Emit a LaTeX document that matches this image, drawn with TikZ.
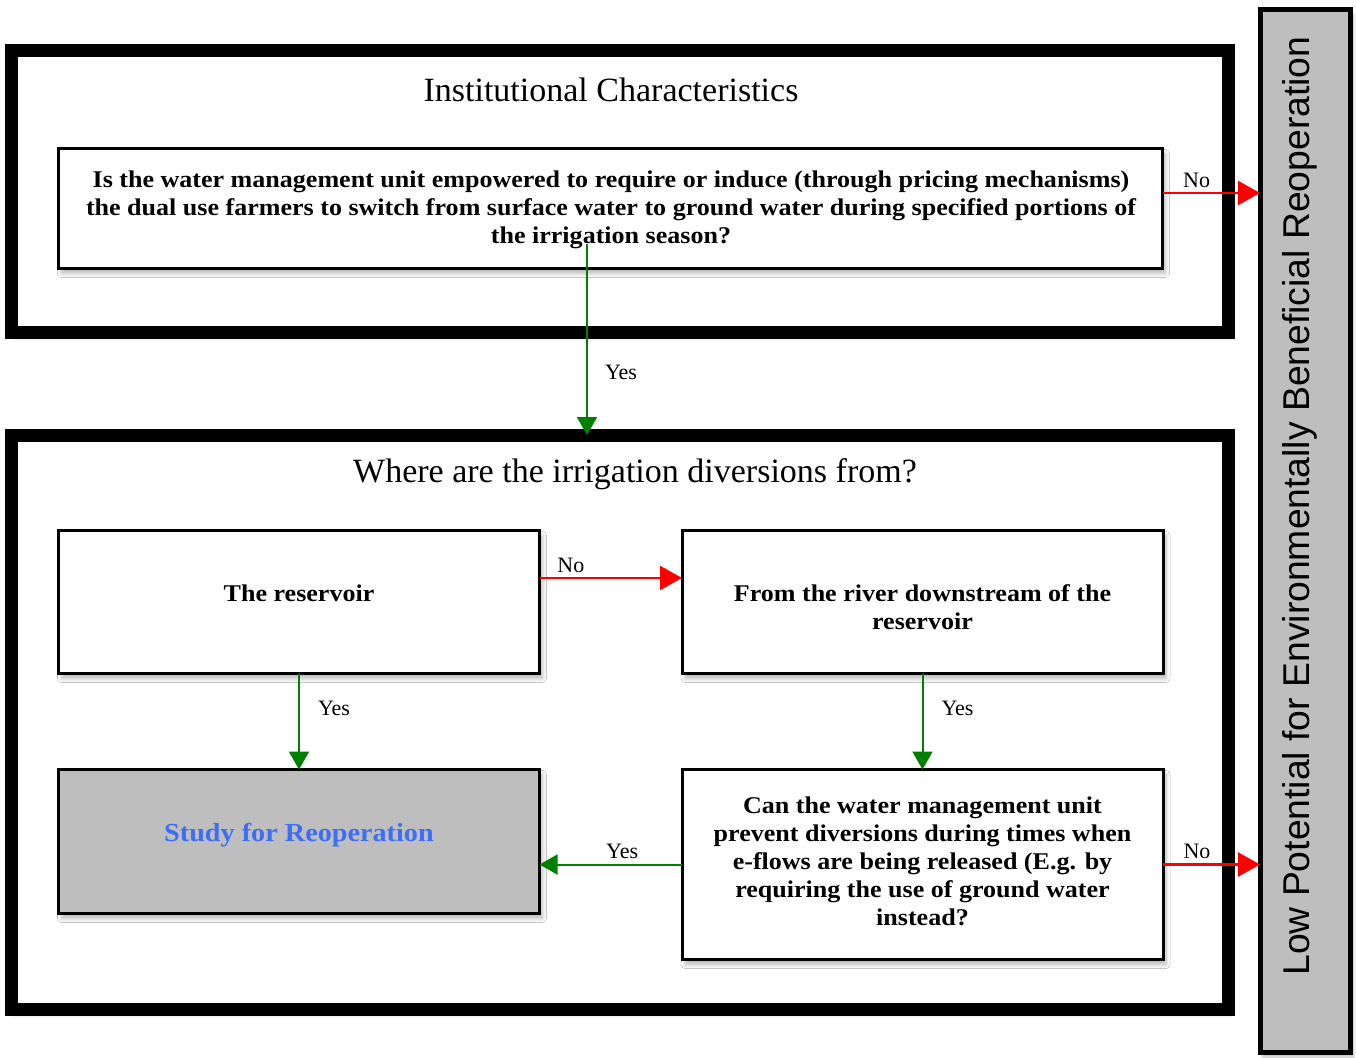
\documentclass[tikz,border=0pt]{standalone}
\usepackage{fontspec}
\setmainfont{Liberation Serif}
\newfontfamily\sansfam{Liberation Sans}
\newfontfamily\widefam[FakeStretch=1.085]{Liberation Serif}
\usetikzlibrary{arrows.meta,shadows.blur}
\definecolor{boxgray}{RGB}{190,190,190}
\definecolor{studyblue}{RGB}{62,110,245}
\definecolor{yesgreen}{RGB}{0,128,0}
\definecolor{nored}{RGB}{255,0,0}
\begin{document}
\begin{tikzpicture}[x=1pt,y=-1pt,
  every node/.style={outer sep=0pt, inner sep=0pt},
  softshadow/.style={blur shadow={shadow xshift=3pt, shadow yshift=-5pt, shadow opacity=28, shadow blur steps=8, shadow blur radius=4pt}},
  frame/.style={draw=black, line width=13pt, fill=white, rectangle, softshadow},
  qbox/.style={draw=black, line width=3pt, fill=white, rectangle, softshadow},
  studybox/.style={draw=black, line width=2.5pt, fill=boxgray, rectangle, softshadow},
  lowbox/.style={draw=black, line width=5pt, fill=boxgray, rectangle, softshadow},
  qtext/.style={font=\widefam\bfseries\fontsize{24}{28}\selectfont, align=center},
  titletext/.style={font=\fontsize{34}{38}\selectfont},
  lbl/.style={font=\fontsize{22}{26}\selectfont, text height=15pt, text depth=5pt},
  noarr/.style={draw=nored, line width=2.5pt, -{Triangle[length=22pt,width=24pt]}},
  yesarr/.style={draw=yesgreen, line width=2pt, -{Triangle[length=18pt,width=20pt]}}
]
\useasboundingbox (0,0) rectangle (1356,1057);

% frames
\node[frame, minimum width=1217pt, minimum height=281pt] (box1) at (619.5,191.5) {};
\node[frame, minimum width=1217pt, minimum height=574pt] (box2) at (619.5,722) {};
\node[lowbox, minimum width=90pt, minimum height=1042pt] (low) at (1305,531) {};

% titles
\node[titletext] (title1) at (611,90) {Institutional Characteristics};
\node[titletext] (title2) at (635,474) {Where are the irrigation diversions from?};

% boxes
\node[qbox, minimum width=1104pt, minimum height=120pt] (q1) at (610.5,208.5) {};
\node[qbox, minimum width=481pt, minimum height=143pt] (res) at (299,602) {};
\node[qbox, minimum width=481pt, minimum height=143pt] (down) at (922.5,602) {};
\node[studybox, minimum width=481pt, minimum height=144pt] (study) at (299,841.5) {};
\node[qbox, minimum width=481pt, minimum height=190pt] (can) at (922.5,864.5) {};

% texts
\node[qtext] (q1t) at (611,210) {Is the water management unit empowered to require or induce (through pricing mechanisms)\\the dual use farmers to switch from surface water to ground water during specified portions of\\the irrigation season?};
\node[qtext] (rest) at (299,593) {The reservoir};
\node[qtext] (downt) at (922.5,607) {From the river downstream of the\\reservoir};
\node[qtext, text=studyblue, font=\widefam\bfseries\fontsize{26}{30}\selectfont] (studyt) at (299,835) {Study for Reoperation};
\node[qtext] (cant) at (922.5,861) {Can the water management unit\\prevent diversions during times when\\e-flows are being released (E.g. by\\requiring the use of ground water\\instead?};
\node[rotate=90, font=\sansfam\fontsize{37.3}{40}\selectfont] (lowt) at (1300,506) {Low Potential for Environmentally Beneficial Reoperation};

% connectors
\coordinate (q1out) at ([yshift=15.5pt]q1.east);
\draw[noarr] (q1out) -- (q1out -| low.west) node[lbl, pos=0.35, above=1pt] {No};
\coordinate (q1down) at (587,244);
\draw[yesarr] (q1down) -- (q1down |- box2.north) node[lbl, pos=0.685, right=18pt] {Yes};
\coordinate (resout) at ([yshift=24pt]res.east);
\draw[noarr] (resout) -- (resout -| down.west) node[lbl, pos=0.22, above=1pt] {No};
\draw[yesarr] (res.south) -- (study.north) node[lbl, pos=0.39, right=19pt] {Yes};
\draw[yesarr] (down.south) -- (can.north) node[lbl, pos=0.39, right=19pt] {Yes};
\draw[yesarr] (can.west) -- (can.west -| study.east) node[lbl, pos=0.42, above=1pt] {Yes};
\draw[noarr] (can.east) -- (can.east -| low.west) node[lbl, pos=0.35, above=1pt] {No};
\end{tikzpicture}
\end{document}
